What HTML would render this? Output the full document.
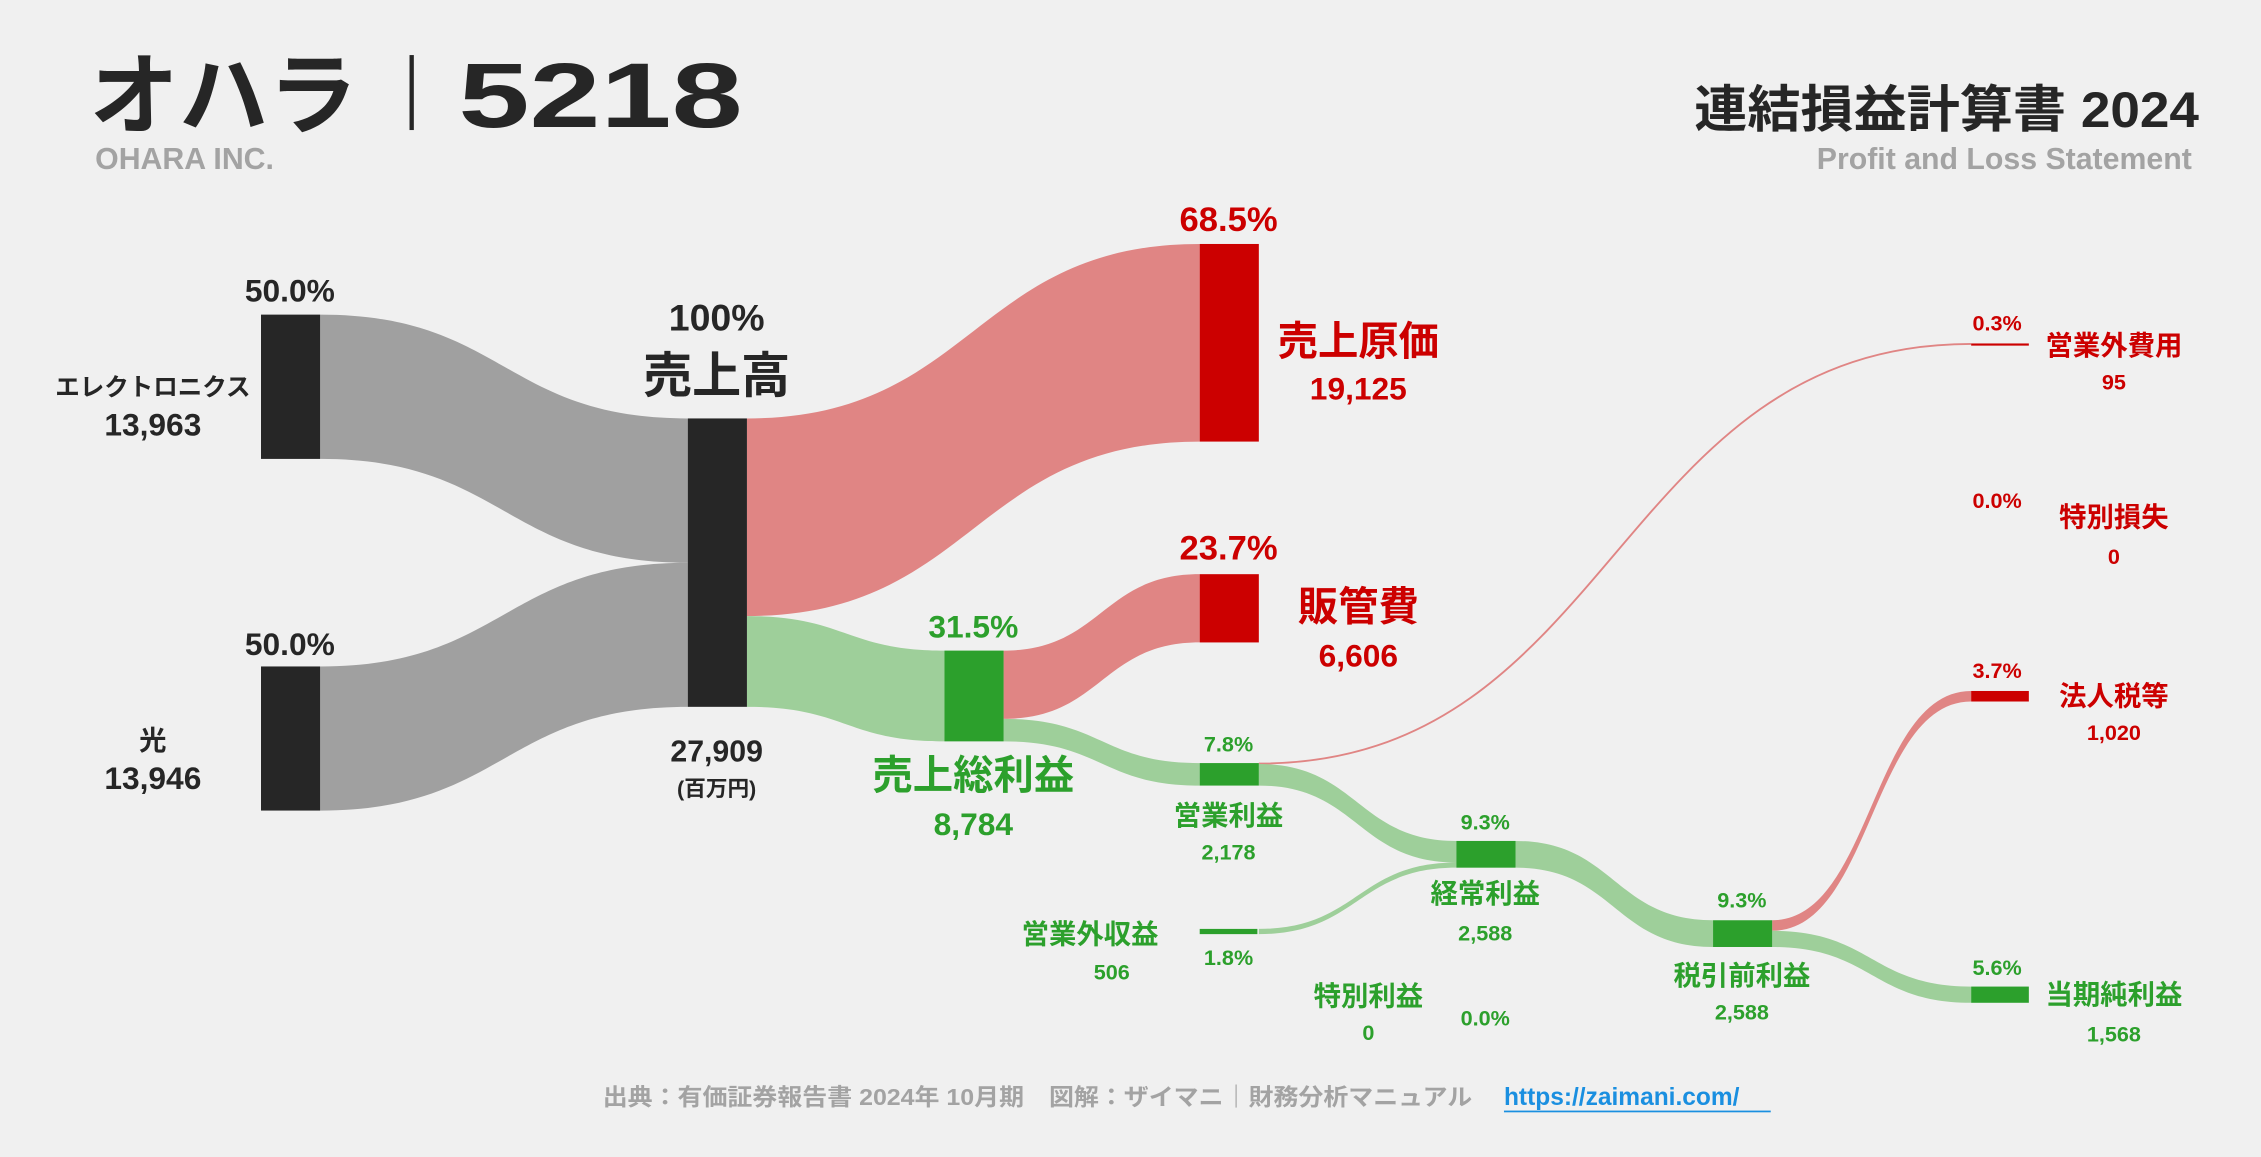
<!DOCTYPE html>
<html><head><meta charset="utf-8">
<style>
html,body{margin:0;padding:0;background:#f0f0f0;}
svg{display:block;font-family:"Liberation Sans","Noto Sans CJK JP",sans-serif;font-weight:bold;}
</style></head>
<body>
<svg id="chart" width="2261" height="1157" viewBox="0 0 1568 802" xmlns="http://www.w3.org/2000/svg">
<rect width="1568" height="802" fill="#f0f0f0"/>
<text x="62" y="88" font-size="62" fill="#262626">オハラ</text>
<rect x="284" y="38" width="3" height="52" fill="#262626"/>
<text x="318" y="88" font-size="64" fill="#262626" textLength="197" lengthAdjust="spacingAndGlyphs">5218</text>
<text x="66" y="117" font-size="21" fill="#a3a3a3">OHARA INC.</text>
<text x="1175" y="88" font-size="35" fill="#262626" textLength="350" lengthAdjust="spacingAndGlyphs">連結損益計算書 2024</text>
<text x="1520" y="117" font-size="21" fill="#a3a3a3" text-anchor="end">Profit and Loss Statement</text>
<g id="flows"></g><g id="nodes"></g><g id="labels"></g>
<text x="418" y="766" font-size="16" fill="#a3a3a3" textLength="603" lengthAdjust="spacingAndGlyphs">出典：有価証券報告書 2024年 10月期　図解：ザイマニ｜財務分析マニュアル</text>
<text x="1043" y="766" font-size="17" fill="#1a8fe0">https://zaimani.com/</text>
<rect x="1043" y="770" width="185" height="1.2" fill="#1a8fe0"/>
</svg>
<script>
const nodeNames=["electronics","hikari","revenue","cogs","gross","sga","opinc","opexp","spLoss","nonopInc","ordinary","spGain","pretax","tax","net"];
const nodeValues=[13963,13946,27909,19125,8784,6606,2178,95,0,506,2588,0,2588,1020,1568];
const flowSrc=["electronics","hikari","revenue","revenue","gross","gross","opinc","opinc","nonopInc","ordinary","pretax","pretax"];
const flowDst=["revenue","revenue","cogs","gross","sga","opinc","opexp","ordinary","ordinary","pretax","tax","net"];
const flowVals=[13963,13946,19125,8784,6606,2178,95,2083,505,2588,1020,1568];
const flowKind=["g","g","r","p","r","p","r","p","p","p","r","p"];

const NS="http://www.w3.org/2000/svg";
const k=200/27909;
const layout={electronics:[181,218],hikari:[181,462],revenue:[477,290],cogs:[832,169],gross:[655,451],sga:[832,398],opinc:[832,529],opexp:[1367,238],spLoss:[1367,345],nonopInc:[832,644],ordinary:[1010,583],spGain:[1010,700],pretax:[1188,638],tax:[1367,479],net:[1367,684]};
const nodeCol={electronics:"#262626",hikari:"#262626",revenue:"#262626",cogs:"#cc0000",sga:"#cc0000",opexp:"#cc0000",spLoss:"#cc0000",tax:"#cc0000"};
const fCol={g:"#a0a0a0",r:"#e08584",p:"#9ecf9a"};
const N={};
nodeNames.forEach((n,i)=>{N[n]={x:layout[n][0],y:layout[n][1],h:Math.max(nodeValues[i]*k,0),outOff:0,inOff:0};});
const fg=document.getElementById("flows"),ng=document.getElementById("nodes"),lg=document.getElementById("labels");
flowSrc.forEach((s,i)=>{
 const a=N[s],b=N[flowDst[i]],h=flowVals[i]*k;
 const x0=a.x+41,x1=b.x,y0=a.y+a.outOff,y1=b.y+b.inOff;
 a.outOff+=h;b.inOff+=h;
 const mx=(x0+x1)/2;
 const p=document.createElementNS(NS,"path");
 if(h<1.2){
  p.setAttribute("d",`M${x0},${y0+h/2}C${mx},${y0+h/2} ${mx},${y1+h/2} ${x1},${y1+h/2}`);
  p.setAttribute("fill","none");p.setAttribute("stroke",fCol[flowKind[i]]);p.setAttribute("stroke-width",1.3);
 }else{
  p.setAttribute("d",`M${x0},${y0}C${mx},${y0} ${mx},${y1} ${x1},${y1}L${x1},${y1+h}C${mx},${y1+h} ${mx},${y0+h} ${x0},${y0+h}Z`);
  p.setAttribute("fill",fCol[flowKind[i]]);
 }
 
 
 fg.appendChild(p);
});
nodeNames.forEach((n,i)=>{
 const d=N[n];if(d.h<=0)return;
 const r=document.createElementNS(NS,"rect");
 r.setAttribute("x",d.x);r.setAttribute("y",d.y);r.setAttribute("width",n==="opexp"||n==="tax"||n==="net"||n==="nonopInc"?40:41);
 r.setAttribute("height",Math.max(d.h,1.5));r.setAttribute("fill",nodeCol[n]||"#2ca02c");
 
 
 ng.appendChild(r);
});
const labelText=["50.0%","エレクトロニクス","13,963","50.0%","光","13,946","100%","売上高","27,909","(百万円)","68.5%","売上原価","19,125","23.7%","販管費","6,606","31.5%","売上総利益","8,784","7.8%","営業利益","2,178","0.3%","営業外費用","95","0.0%","特別損失","0","3.7%","法人税等","1,020","9.3%","経常利益","2,588","営業外収益","506","1.8%","特別利益","0","0.0%","9.3%","税引前利益","2,588","5.6%","当期純利益","1,568"];
const lp=[[201,209,22,"k"],[106,274,17,"k"],[106,302,22,"k"],[201,454,22,"k"],[106,520,19,"k"],[106,547,22,"k"],[497,229,26,"k"],[497,272,34,"k"],[497,528,21,"k"],[497,552,15,"k"],
[852,160,24,"r"],[942,246,28,"r"],[942,277,22,"r"],[852,388,24,"r"],[942,430,28,"r"],[942,462,22,"r"],[675,442,22,"g"],[675,547,28,"g"],[675,579,22,"g"],
[852,521,15,"g"],[852,572,19,"g"],[852,596,15,"g"],[1385,229,15,"r"],[1466,246,19,"r"],[1466,270,15,"r"],[1385,352,15,"r"],[1466,365,19,"r"],[1466,391,15,"r"],[1385,470,15,"r"],[1466,489,19,"r"],[1466,513,15,"r"],
[1030,575,15,"g"],[1030,626,19,"g"],[1030,652,15,"g"],[756,654,19,"g"],[771,679,15,"g"],[852,669,15,"g"],[949,697,19,"g"],[949,721,15,"g"],[1030,711,15,"g"],[1208,629,15,"g"],[1208,683,19,"g"],[1208,707,15,"g"],[1385,676,15,"g"],[1466,696,19,"g"],[1466,722,15,"g"]];
const lc={k:"#262626",r:"#cc0000",g:"#2ca02c"};
labelText.forEach((t,i)=>{
 const q=lp[i],e=document.createElementNS(NS,"text");
 e.setAttribute("x",q[0]);e.setAttribute("y",q[1]);e.setAttribute("font-size",q[2]);e.setAttribute("fill",lc[q[3]]);e.setAttribute("text-anchor","middle");
 e.textContent=t;
 
 
 lg.appendChild(e);
});
</script>
</body></html>
